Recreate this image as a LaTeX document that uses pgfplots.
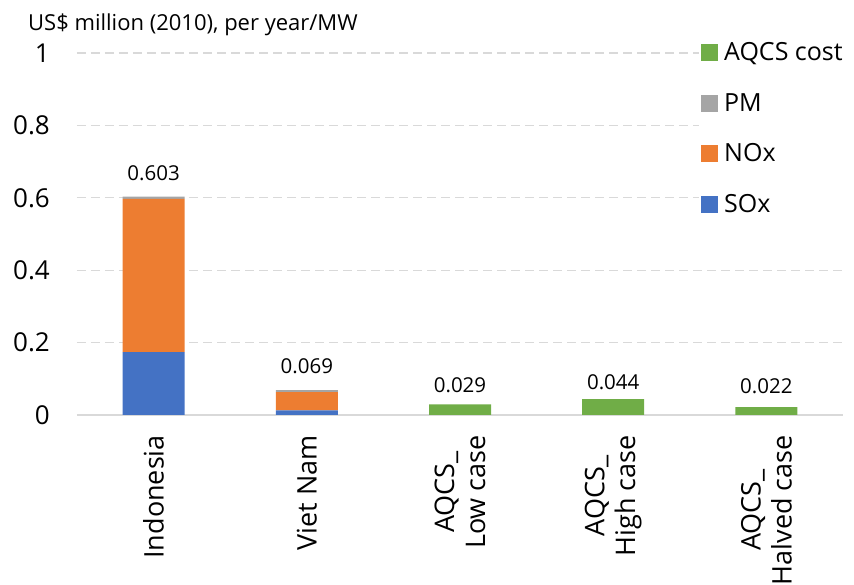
\documentclass[border=0pt]{standalone}
\usepackage{pgfplots}
\pgfplotsset{compat=1.18}
\usepackage{fontspec}
\setmainfont{Open Sans}
\usetikzlibrary{calc}
\definecolor{cSOx}{HTML}{4472C4}
\definecolor{cNOx}{HTML}{ED7D31}
\definecolor{cPM}{HTML}{A5A5A5}
\definecolor{cAQ}{HTML}{70AD47}
\definecolor{cGrid}{HTML}{D9D9D9}
\begin{document}
\begin{tikzpicture}
\begin{axis}[
  name=ax,
  scale only axis,
  width=766pt, height=362pt,
  xmin=-0.5, xmax=4.5, ymin=0, ymax=1,
  clip=false,
  ybar stacked, bar width=62pt,
  axis x line=bottom, axis y line=left,
  y axis line style={draw=none},
  x axis line style={draw=cGrid, line width=1.2pt, -},
  major tick length=0pt,
  ytick={0,0.2,0.4,0.6,0.8,1},
  yticklabels={0,0.2,0.4,0.6,0.8,1},
  ymajorgrids,
  grid style={cGrid, line width=1.2pt, dash pattern=on 9pt off 5pt},
  xtick={0,1,2,3,4},
  xticklabels={Indonesia,Viet Nam,{AQCS\_\\Low case},{AQCS\_\\High case},{AQCS\_\\Halved case}},
  xticklabel style={yshift=-20pt, rotate=90, anchor=east, align=center, inner sep=0pt, font=\fontsize{27}{31}\selectfont},
  yticklabel style={anchor=east, inner sep=0pt, font=\fontsize{26}{30}\selectfont, xshift=-27pt},
  /pgf/number format/assume math mode=true,
  legend cell align=left,
  reverse legend,
  legend style={draw=none, fill=white, at={(rel axis cs:0.812,1.04)}, anchor=north west,
    font=\fontsize{25}{29}\selectfont, row sep=27pt, column sep=4pt, inner sep=2pt},
  legend image code/.code={\fill[#1] (0pt,-8.5pt) rectangle (17pt,8.5pt);},
  every node near coord/.style={anchor=south, inner sep=0pt, yshift=17pt, font=\fontsize{20.5}{24}\selectfont, black},
]
\addplot[draw=none, fill=cSOx] coordinates {(0,0.174) (1,0.013) (2,0) (3,0) (4,0)};
\addlegendentry{SOx}
\addplot[draw=none, fill=cNOx] coordinates {(0,0.423) (1,0.050) (2,0) (3,0) (4,0)};
\addlegendentry{NOx}
\addplot[draw=none, fill=cPM, nodes near coords, point meta=explicit symbolic]
  coordinates {(0,0.006) [0.603] (1,0.006) [0.069] (2,0) [] (3,0) [] (4,0) []};
\addlegendentry{PM}
\addplot[draw=none, fill=cAQ, nodes near coords, point meta=explicit symbolic]
  coordinates {(0,0) [] (1,0) [] (2,0.029) [0.029] (3,0.044) [0.044] (4,0.022) [0.022]};
\addlegendentry{AQCS cost}
\coordinate (ll) at (rel axis cs:0,0);
\coordinate (ur) at (rel axis cs:1,1);
\node[anchor=base west, inner sep=0pt, font=\fontsize{22}{26}\selectfont] at (rel axis cs:-0.064,1.0635) {US\$ million (2010), per year/MW};
\end{axis}
\pgfresetboundingbox
\path ($(ll)+(-77pt,-170pt)$) rectangle ($(ur)+(11pt,53pt)$);
\end{tikzpicture}
\end{document}
